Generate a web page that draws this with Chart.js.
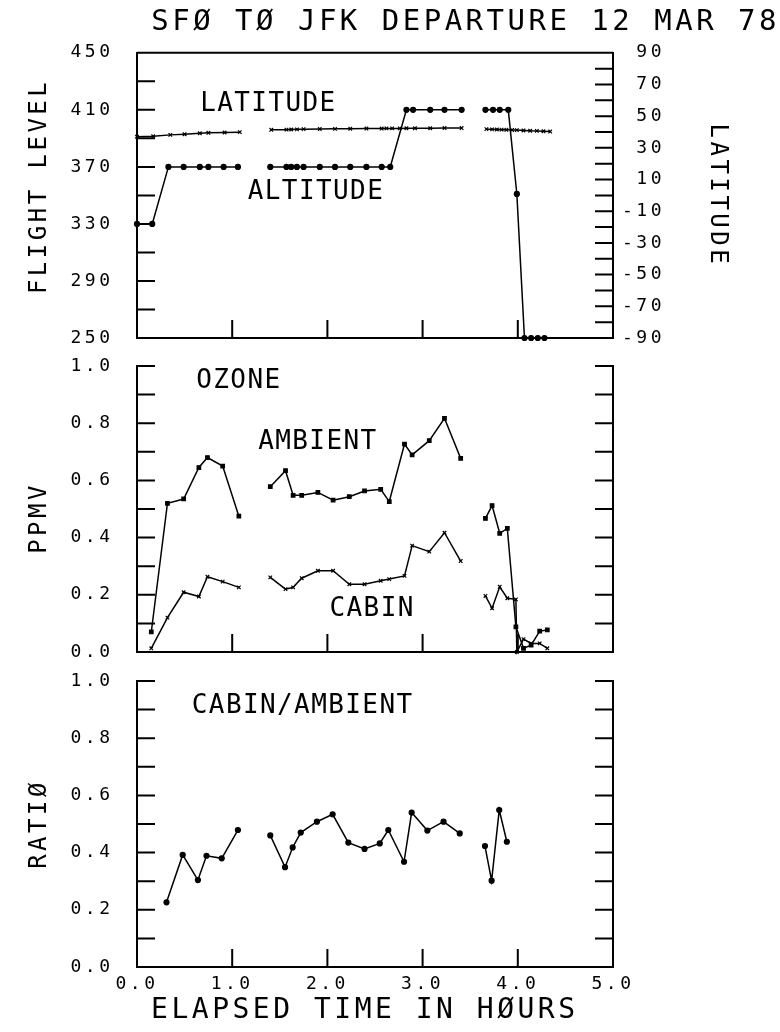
<!DOCTYPE html>
<html>
<head>
    <title>SFO to JFK ozone</title>
    <script src="https://cdn.jsdelivr.net/npm/chart.js"></script>
    <style>
        body { margin: 0; background: #fff; }
        #wrap { position: relative; width: 780px; height: 1032px; }
        #wrap canvas { position: absolute; left: 0; top: 0; }
    </style>
</head>
<body>
    <div id="wrap">
        <canvas id="flightChart" width="780" height="1032"></canvas>
        <canvas id="ozoneChart" width="780" height="1032"></canvas>
        <canvas id="ratioChart" width="780" height="1032"></canvas>
    </div>
    <script>
        // flight level (left axis) and latitude (right axis), null = gap in record
        const altHours = [0.0, 0.16, 0.33, 0.49, 0.66, 0.75, 0.91, 1.06, null,
            1.40, 1.57, 1.62, 1.68, 1.75, 1.92, 2.08, 2.24, 2.41, 2.57, 2.66, 2.83, 2.90, 3.08, 3.23, 3.41, null,
            3.66, 3.74, 3.81, 3.90, 3.99, 4.07, 4.14, 4.21, 4.28];
        const altitude = [330, 330, 370, 370, 370, 370, 370, 370, null,
            370, 370, 370, 370, 370, 370, 370, 370, 370, 370, 370, 410, 410, 410, 410, 410, null,
            410, 410, 410, 410, 351, 250, 250, 250, 250];

        const latHours = [0.0, 0.17, 0.35, 0.50, 0.66, 0.75, 0.92, 1.08, null,
            1.41, 1.57, 1.62, 1.68, 1.75, 1.92, 2.08, 2.24, 2.41, 2.57, 2.62, 2.68, 2.76, 2.83, 2.92, 3.08, 3.23, 3.41, null,
            3.67, 3.73, 3.78, 3.83, 3.88, 3.94, 3.99, 4.06, 4.13, 4.20, 4.27, 4.34];
        const latitude = [37.0, 37.3, 38.2, 38.6, 39.2, 39.5, 39.7, 39.9, null,
            41.4, 41.5, 41.6, 41.7, 41.8, 41.9, 42.0, 42.1, 42.2, 42.2, 42.3, 42.3, 42.3, 42.4, 42.4, 42.4, 42.5, 42.5, null,
            41.8, 41.7, 41.6, 41.5, 41.4, 41.3, 41.2, 41.0, 40.8, 40.7, 40.5, 40.3];

        // ozone, ppmv
        const ozoneHours = [0.15, 0.32, 0.49, 0.65, 0.74, 0.90, 1.07, null,
            1.40, 1.56, 1.64, 1.73, 1.90, 2.06, 2.23, 2.39, 2.56, 2.65, 2.81, 2.89, 3.07, 3.23, 3.40, null,
            3.66, 3.73, 3.81, 3.89, 3.98, 4.06, 4.14, 4.23, 4.31];
        const ambient = [0.07, 0.52, 0.535, 0.645, 0.68, 0.65, 0.475, null,
            0.578, 0.634, 0.548, 0.548, 0.558, 0.531, 0.543, 0.563, 0.569, 0.526, 0.727, 0.689, 0.739, 0.817, 0.677, null,
            0.467, 0.512, 0.415, 0.432, 0.088, 0.013, 0.024, 0.073, 0.077];

        const cabinHours = [0.15, 0.32, 0.49, 0.65, 0.74, 0.90, 1.07, null,
            1.40, 1.56, 1.64, 1.73, 1.90, 2.06, 2.23, 2.39, 2.56, 2.65, 2.81, 2.89, 3.07, 3.23, 3.40, null,
            3.66, 3.73, 3.81, 3.89, 3.98, 3.99, 4.06, 4.14, 4.23, 4.31];
        const cabin = [0.013, 0.12, 0.209, 0.194, 0.263, 0.246, 0.226, null,
            0.261, 0.22, 0.226, 0.258, 0.284, 0.284, 0.237, 0.237, 0.249, 0.255, 0.266, 0.372, 0.351, 0.417, 0.318, null,
            0.196, 0.153, 0.228, 0.188, 0.184, 0.0, 0.045, 0.03, 0.03, 0.013];

        // cabin / ambient
        const ratioHours = [0.31, 0.48, 0.64, 0.73, 0.89, 1.06, null,
            1.40, 1.555, 1.635, 1.72, 1.89, 2.055, 2.22, 2.39, 2.55, 2.64, 2.805, 2.885, 3.05, 3.22, 3.39, null,
            3.655, 3.725, 3.805, 3.885];
        const ratio = [0.226, 0.392, 0.304, 0.389, 0.38, 0.479, null,
            0.46, 0.349, 0.418, 0.47, 0.508, 0.534, 0.435, 0.413, 0.432, 0.479, 0.368, 0.54, 0.477, 0.508, 0.467, null,
            0.423, 0.302, 0.549, 0.438];

        // inner tick marks
        const hourTicks = [1, 2, 3, 4];
        const flTicks = [270, 290, 310, 330, 350, 370, 390, 410, 430];
        const latTicks = [-80, -70, -60, -50, -40, -30, -20, -10, 0, 10, 20, 30, 40, 50, 60, 70, 80];
        const fracTicks = [0.1, 0.2, 0.3, 0.4, 0.5, 0.6, 0.7, 0.8, 0.9, 1.0];

        const FONT = '"DejaVu Sans Mono", monospace';
        Chart.defaults.font.family = FONT;
        Chart.defaults.color = '#000';

        const toPoints = (hours, values) => hours.map((h, i) => ({ x: h, y: values[i] }));

        // frame, inward ticks and in-plot labels
        const frame = {
            id: 'frame',
            beforeDraw(chart) {
                chart.ctx.letterSpacing = '3.5px';
            },
            afterDraw(chart, args, opts) {
                const { ctx, chartArea: a, scales } = chart;
                const len = 18;
                ctx.save();
                ctx.strokeStyle = '#000';
                ctx.lineWidth = 2;
                ctx.beginPath();
                if (opts.top) {
                    ctx.moveTo(a.left, a.top);
                    ctx.lineTo(a.right, a.top);
                }
                (opts.left || []).forEach(v => {
                    const y = scales.y.getPixelForValue(v);
                    ctx.moveTo(a.left, y);
                    ctx.lineTo(a.left + len, y);
                });
                (opts.right || []).forEach(v => {
                    const y = scales.y2.getPixelForValue(v);
                    ctx.moveTo(a.right, y);
                    ctx.lineTo(a.right - len, y);
                });
                (opts.bottom || []).forEach(v => {
                    const x = scales.x.getPixelForValue(v);
                    ctx.moveTo(x, a.bottom);
                    ctx.lineTo(x, a.bottom - len);
                });
                ctx.stroke();

                ctx.letterSpacing = '1.4px';
                ctx.font = '26px ' + FONT;
                ctx.fillStyle = '#000';
                ctx.textAlign = 'center';
                ctx.textBaseline = 'middle';
                (opts.labels || []).forEach(l => {
                    ctx.fillText(l.text, scales.x.getPixelForValue(l.x), scales.y.getPixelForValue(l.y));
                });
                ctx.restore();
            }
        };

        const xScale = (height, showLabels) => ({
            type: 'linear',
            position: 'bottom',
            min: 0,
            max: 5,
            afterFit: s => { s.height = height; },
            grid: { display: false, drawTicks: false },
            border: { color: '#000', width: 2 },
            ticks: { display: showLabels, stepSize: 1, padding: 7, font: { size: 18 }, callback: v => v.toFixed(1) },
            title: { display: showLabels, text: 'ELAPSED TIME IN HØURS ', font: { size: 28 }, padding: { top: 0, bottom: 4 } }
        });

        const fracScale = title => ({
            position: 'left',
            min: 0,
            max: 1,
            afterFit: s => { s.width = 137; },
            grid: { display: false, drawTicks: false },
            border: { color: '#000', width: 2 },
            ticks: { stepSize: 0.2, padding: 23.5, font: { size: 18 }, callback: v => v.toFixed(1) },
            title: { display: true, text: title, font: { size: 24 }, padding: { top: 25.6, bottom: 0 } }
        });

        const blankRight = {
            position: 'right',
            min: 0,
            max: 1,
            afterFit: s => { s.width = 167; },
            grid: { display: false, drawTicks: false },
            border: { color: '#000', width: 2 },
            ticks: { display: false }
        };

        const series = (data, pointStyle, yAxisID) => ({
            data,
            yAxisID,
            pointStyle,
            borderColor: '#000',
            borderWidth: 1.5,
            pointRadius: 2.5,
            pointBorderWidth: 1.2,
            pointBackgroundColor: '#000',
            pointBorderColor: '#000',
            tension: 0,
            spanGaps: false,
            clip: false
        });

        const baseOptions = (paddingTop, plugins, scales) => ({
            responsive: false,
            animation: false,
            events: [],
            layout: { padding: { top: paddingTop } },
            plugins: Object.assign({ legend: { display: false }, tooltip: { enabled: false } }, plugins),
            scales
        });

        new Chart(document.getElementById('flightChart'), {
            type: 'line',
            data: {
                datasets: [
                    series(toPoints(altHours, altitude), 'circle', 'y'),
                    series(toPoints(latHours, latitude), 'crossRot', 'y2')
                ]
            },
            options: baseOptions(0, {
                title: {
                    display: true,
                    text: 'SFØ TØ JFK DEPARTURE 12 MAR 78',
                    align: 'end',
                    color: '#000',
                    font: { size: 29, weight: 'normal' },
                    padding: { top: 5, bottom: 13 }
                },
                frame: {
                    top: true, left: flTicks, right: latTicks, bottom: hourTicks,
                    labels: [
                        { text: 'LATITUDE', x: 1.38, y: 414 },
                        { text: 'ALTITUDE', x: 1.88, y: 352 }
                    ]
                }
            }, {
                x: xScale(694, false),
                y: {
                    position: 'left',
                    min: 250,
                    max: 450,
                    afterFit: s => { s.width = 137; },
                    grid: { display: false, drawTicks: false },
                    border: { color: '#000', width: 2 },
                    ticks: { stepSize: 40, padding: 23.5, font: { size: 18 } },
                    title: { display: true, text: ' FLIGHT LEVEL', font: { size: 24 }, padding: { top: 25.6, bottom: 0 } }
                },
                y2: {
                    position: 'right',
                    min: -90,
                    max: 90,
                    afterFit: s => { s.width = 167; },
                    grid: { display: false, drawTicks: false },
                    border: { color: '#000', width: 2 },
                    // monospace, so padding to 3 characters lines the numbers up on the right
                    ticks: { stepSize: 20, padding: 9, font: { size: 18 }, callback: v => String(v).padStart(3, ' ') },
                    title: { display: true, text: 'LATITUDE', font: { size: 24 }, padding: { top: 48.6, bottom: 0 } }
                }
            }),
            plugins: [frame]
        });

        new Chart(document.getElementById('ozoneChart'), {
            type: 'line',
            data: {
                datasets: [
                    series(toPoints(ozoneHours, ambient), 'rect', 'y'),
                    series(toPoints(cabinHours, cabin), 'crossRot', 'y')
                ]
            },
            options: baseOptions(366, {
                frame: {
                    left: fracTicks, right: fracTicks, bottom: hourTicks,
                    labels: [
                        { text: 'OZONE', x: 1.07, y: 0.945 },
                        { text: 'AMBIENT', x: 1.90, y: 0.735 },
                        { text: 'CABIN', x: 2.47, y: 0.15 }
                    ]
                }
            }, {
                x: xScale(380, false),
                y: fracScale('PPMV '),
                y2: blankRight
            }),
            plugins: [frame]
        });

        new Chart(document.getElementById('ratioChart'), {
            type: 'line',
            data: {
                datasets: [
                    series(toPoints(ratioHours, ratio), 'circle', 'y')
                ]
            },
            options: baseOptions(681, {
                frame: {
                    left: fracTicks, right: fracTicks, bottom: hourTicks,
                    labels: [
                        { text: 'CABIN/AMBIENT', x: 1.74, y: 0.91 }
                    ]
                }
            }, {
                x: xScale(65, true),
                y: fracScale('RATIØ'),
                y2: blankRight
            }),
            plugins: [frame]
        });
    </script>
</body>
</html>
